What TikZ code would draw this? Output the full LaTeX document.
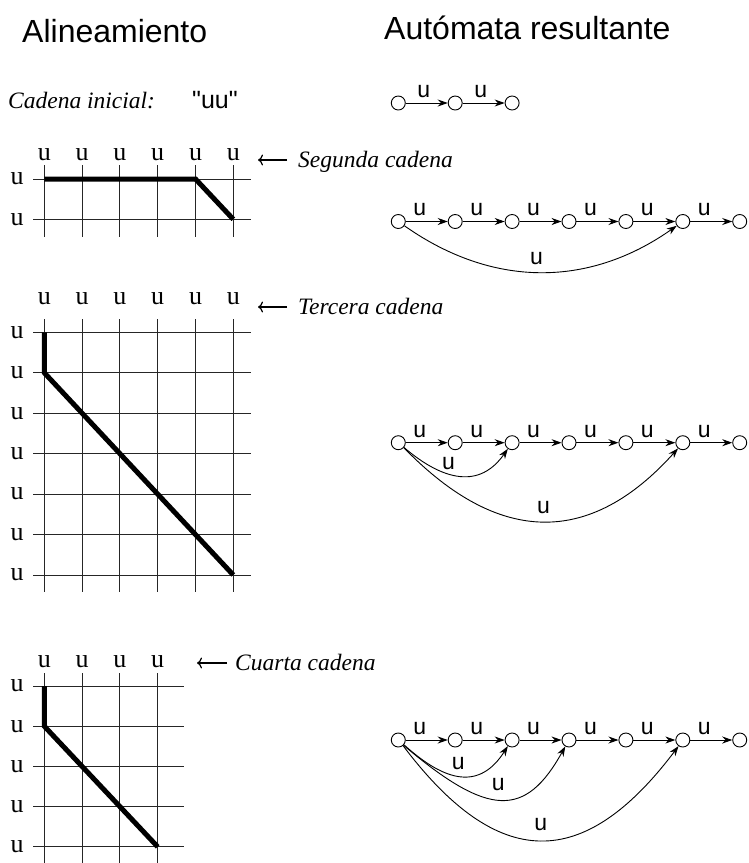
\documentclass[tikz,border=0pt]{standalone}
\usepackage{fontspec}
\setmainfont{Liberation Serif}
\newfontfamily\sansf{Liberation Sans}
\usetikzlibrary{arrows.meta}
\tikzset{
  snode/.style={circle, draw, line width=0.9pt, minimum size=14pt, inner sep=0pt, fill=white},
  trans/.style={line width=0.9pt, -{Stealth[length=10pt,width=7pt]}},
  lab/.style={font=\sansf\fontsize{23}{23}\selectfont, inner sep=0pt},
  glab/.style={font=\fontsize{26}{26}\selectfont, inner sep=0pt},
  gridline/.style={line width=1pt, black!85},
  pathline/.style={line width=5pt},
  note/.style={font=\itshape\fontsize{23.5}{23.5}\selectfont, inner sep=0pt, anchor=base west},
  cmarrow/.style={line width=1.2pt, -{Computer Modern Rightarrow[length=5pt,width=11pt]}},
  titletext/.style={font=\sansf\fontsize{32}{32}\selectfont, inner sep=0pt, anchor=base west},
}
\begin{document}
\begin{tikzpicture}[x=1pt,y=-1pt]
\useasboundingbox (0,0) rectangle (748,863);

% titles
\node[titletext] (t1) at (22,42) {Alineamiento};
\node[titletext] (t2) at (384,39) {Autómata resultante};

% initial string
\node[note] (ci) at (8,108) {Cadena inicial:};
\node[font=\sansf\fontsize{25}{25}\selectfont, anchor=base west, inner sep=0pt] (uu) at (192,108) {\char"22 uu\char"22};

% top automaton
\foreach \i in {0,1,2} \node[snode] (a\i) at ({398.3+56.9*\i},103) {};
\foreach \i [evaluate=\i as \j using int(\i+1)] in {0,1}
  \draw[trans] (a\i) -- node[lab, above=5pt, xshift=-3pt] {u} (a\j);

% ---------- grid 1 ----------
\foreach \i in {0,...,5} {
  \draw[gridline] ({44.3+37.8*\i},165) -- ({44.3+37.8*\i},236.7);
  \node[glab, anchor=base] (g1c\i) at ({44.3+37.8*\i},160) {u};
}
\foreach \j in {0,1} {
  \draw[gridline] (33.3,{179+40.3*\j}) -- (250.7,{179+40.3*\j});
  \node[glab] (g1r\j) at (17,{179+40.3*\j}) {u};
}
\draw[pathline] (44.3,179) -- (195.5,179) -- (233.3,219.3);
\coordinate (g1a) at (287,160);
\coordinate (g1b) at (258,160);
\draw[cmarrow] (g1a) -- (g1b);
\node[note] (n1) at (298,167) {Segunda cadena};

% second automaton
\foreach \i in {0,...,6} \node[snode] (b\i) at ({398.3+56.9*\i},221.5) {};
\foreach \i [evaluate=\i as \j using int(\i+1)] in {0,...,5}
  \draw[trans] (b\i) -- node[lab, above=5pt, xshift=-7pt] {u} (b\j);
\draw[trans] (b0.-35) .. controls +(88,62) and +(-88,62) .. node[lab, midway, above=7pt, xshift=-4pt] {u} (b5.-145);

% ---------- grid 2 ----------
\foreach \i in {0,...,5} {
  \draw[gridline] ({44.3+37.8*\i},319.3) -- ({44.3+37.8*\i},591.7);
  \node[glab, anchor=base] (g2c\i) at ({44.3+37.8*\i},304) {u};
}
\foreach \j in {0,...,6} {
  \draw[gridline] (33.3,{332.3+40.45*\j}) -- (250.7,{332.3+40.45*\j});
  \node[glab] (g2r\j) at (17,{332.3+40.45*\j}) {u};
}
\draw[pathline] (44.3,332.3) -- (44.3,372.75) -- (233.3,575);
\coordinate (g2a) at (287,307);
\coordinate (g2b) at (258,307);
\draw[cmarrow] (g2a) -- (g2b);
\node[note] (n2) at (298,314) {Tercera cadena};

% third automaton
\foreach \i in {0,...,6} \node[snode] (c\i) at ({398.3+56.9*\i},442.7) {};
\foreach \i [evaluate=\i as \j using int(\i+1)] in {0,...,5}
  \draw[trans] (c\i) -- node[lab, above=5pt, xshift=-7pt] {u} (c\j);
\draw[trans] (c0.-40) .. controls +(40,34) and +(-28,40) .. node[lab, midway, above=6pt, xshift=-12pt] {u} (c2.-125);
\draw[trans] (c0.-42) .. controls +(95,98) and +(-88,98) .. node[lab, midway, above=7.5pt] {u} (c5.-130);

% ---------- grid 3 ----------
\foreach \i in {0,...,3} {
  \draw[gridline] ({44.3+37.8*\i},673) -- ({44.3+37.8*\i},863);
  \node[glab, anchor=base] (g3c\i) at ({44.3+37.8*\i},667) {u};
}
\foreach \j in {0,...,4} {
  \draw[gridline] (33.3,{686+40.2*\j}) -- (184.3,{686+40.2*\j});
  \node[glab] (g3r\j) at (17,{686+40.2*\j}) {u};
}
\draw[pathline] (44.3,686) -- (44.3,726.2) -- (157.7,846.8);
\coordinate (g3a) at (227,663);
\coordinate (g3b) at (197,663);
\draw[cmarrow] (g3a) -- (g3b);
\node[note] (n3) at (235,670) {Cuarta cadena};

% fourth automaton
\foreach \i in {0,...,6} \node[snode] (d\i) at ({398.3+56.9*\i},740) {};
\foreach \i [evaluate=\i as \j using int(\i+1)] in {0,...,5}
  \draw[trans] (d\i) -- node[lab, above=5pt, xshift=-7pt] {u} (d\j);
\draw[trans] (d0.-40) .. controls +(42,38) and +(-28,44) .. node[lab, midway, above=6.5pt, xshift=-3pt] {u} (d2.-125);
\draw[trans] (d0.-45) .. controls +(85,72) and +(-40,72) .. node[lab, midway, above=8.5pt, xshift=-3pt] {u} (d3.-120);
\draw[trans] (d0.-50) .. controls +(95,126) and +(-95,126) .. node[lab, midway, above=9pt] {u} (d5.-125);
\end{tikzpicture}
\end{document}
